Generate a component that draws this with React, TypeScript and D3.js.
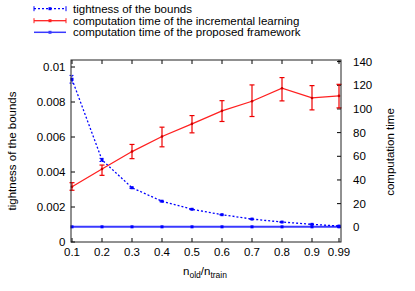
import React, { useEffect, useRef } from "react";
import * as d3 from "d3";

// ratio n_old / n_train
const ratios = [0.1, 0.2, 0.3, 0.4, 0.5, 0.6, 0.7, 0.8, 0.9, 0.99];
const xTickLabels = ["0.1", "0.2", "0.3", "0.4", "0.5", "0.6", "0.7", "0.8", "0.9", "0.99"];
// tightness of the bounds (left axis)
const tightness = [0.0093, 0.00469, 0.0031, 0.00233, 0.00187, 0.00156, 0.00131, 0.00114, 0.00101, 0.00091];
const tightnessErr = [0.00022, 0.00009, 0.00004, 0.00003, 0.00002, 0.00002, 0.00002, 0.00002, 0.00002, 0.00002];
// computation time of the incremental learning (right axis)
const incTime = [34.3, 49.3, 64, 76.7, 87.4, 98.4, 106.5, 117.5, 109.3, 111];
const incLow = [31.3, 43.9, 58, 68, 79.8, 89.4, 93.6, 106.8, 99.2, 100.9];
const incHigh = [37.7, 52.6, 70, 84.6, 94.4, 107, 120.3, 126.5, 119.7, 120.8];
// computation time of the proposed framework (right axis)
const propTime = [0.4, 0.4, 0.4, 0.4, 0.4, 0.4, 0.4, 0.4, 0.4, 0.4];

const leftTicks = [0, 0.002, 0.004, 0.006, 0.008, 0.01];
const leftTickLabels = ["0", "0.002", "0.004", "0.006", "0.008", "0.01"];
const rightTicks = [0, 20, 40, 60, 80, 100, 120, 140];

const font = "'Liberation Sans', Arial, Helvetica, sans-serif";

export default function App() {
  const ref = useRef<SVGSVGElement>(null);

  useEffect(() => {
    const svg = d3.select(ref.current);
    svg.selectAll("*").remove();

    // frame
    const L = 71, R = 341, T = 60, B = 242;
    const x = d3.scaleLinear().domain([0.1, 0.99]).range([72, 339]);
    const yL = d3.scaleLinear().domain([0, 0.01]).range([242, 67]);
    const yR = d3.scaleLinear().domain([0, 140]).range([227.3, 61.6]);

    const g = svg.append("g").attr("font-family", font).attr("font-size", 11.5).attr("fill", "#000");

    // ticks (inward)
    const tk = 4;
    ratios.forEach((r) => {
      g.append("line").attr("x1", x(r)).attr("x2", x(r)).attr("y1", B).attr("y2", B - tk).attr("stroke", "#000");
      g.append("line").attr("x1", x(r)).attr("x2", x(r)).attr("y1", T).attr("y2", T + tk).attr("stroke", "#000");
    });
    leftTicks.forEach((v) => {
      g.append("line").attr("x1", L).attr("x2", L + tk).attr("y1", yL(v)).attr("y2", yL(v)).attr("stroke", "#000");
    });
    rightTicks.forEach((v) => {
      g.append("line").attr("x1", R).attr("x2", R - tk).attr("y1", yR(v)).attr("y2", yR(v)).attr("stroke", "#000");
    });

    // tick labels
    ratios.forEach((r, i) => {
      g.append("text").attr("x", x(r)).attr("y", 256).attr("text-anchor", "middle").text(xTickLabels[i]);
    });
    leftTicks.forEach((v, i) => {
      g.append("text").attr("x", 65.5).attr("y", yL(v) + 4).attr("text-anchor", "end").text(leftTickLabels[i]);
    });
    rightTicks.forEach((v) => {
      g.append("text").attr("x", 353).attr("y", yR(v) + 4).attr("text-anchor", "start").text(String(v));
    });

    // axis titles
    const xt = g.append("text").attr("x", 205).attr("y", 275).attr("text-anchor", "middle");
    xt.append("tspan").text("n");
    xt.append("tspan").attr("font-size", 8.5).attr("dy", 3).text("old");
    xt.append("tspan").attr("dy", -3).text("/n");
    xt.append("tspan").attr("font-size", 8.5).attr("dy", 3).text("train");

    g.append("text").attr("transform", "translate(16,151) rotate(-90)").attr("text-anchor", "middle").text("tightness of the bounds");
    g.append("text").attr("transform", "translate(394,152) rotate(-90)").attr("text-anchor", "middle").text("computation time");

    const plot = svg.append("g");

    // proposed framework (solid blue)
    const lineR = d3.line<number>().x((_, i) => x(ratios[i])).y((d) => yR(d));
    plot.append("path").attr("d", lineR(propTime)).attr("fill", "none").attr("stroke", "#3a3aff").attr("stroke-width", 2);
    propTime.forEach((d, i) => {
      plot.append("rect").attr("x", x(ratios[i]) - 1.5).attr("y", yR(d) - 1.5).attr("width", 3).attr("height", 3).attr("fill", "#0000ff");
    });

    // tightness (dotted blue)
    const lineL = d3.line<number>().x((_, i) => x(ratios[i])).y((d) => yL(d));
    plot.append("path").attr("d", lineL(tightness)).attr("fill", "none").attr("stroke", "#0000ff").attr("stroke-width", 1.3).attr("stroke-dasharray", "2,2");
    tightness.forEach((d, i) => {
      const cx = x(ratios[i]);
      const y1 = yL(d + tightnessErr[i]), y2 = yL(d - tightnessErr[i]);
      plot.append("line").attr("x1", cx).attr("x2", cx).attr("y1", y1).attr("y2", y2).attr("stroke", "#0000ff").attr("stroke-dasharray", "1.5,1");
      [y1, y2].forEach((yy) => plot.append("line").attr("x1", cx - 2.5).attr("x2", cx + 2.5).attr("y1", yy).attr("y2", yy).attr("stroke", "#0000ff").attr("stroke-dasharray", "1.5,1"));
      plot.append("rect").attr("x", cx - 1.5).attr("y", yL(d) - 1.5).attr("width", 3).attr("height", 3).attr("fill", "#0000ff");
    });

    // incremental learning (red with error bars)
    plot.append("path").attr("d", lineR(incTime)).attr("fill", "none").attr("stroke", "#ff2020").attr("stroke-width", 1.3);
    incTime.forEach((d, i) => {
      const cx = x(ratios[i]);
      const y1 = yR(incHigh[i]), y2 = yR(incLow[i]);
      plot.append("line").attr("x1", cx).attr("x2", cx).attr("y1", y1).attr("y2", y2).attr("stroke", "#ee0000").attr("stroke-width", 1.2);
      [y1, y2].forEach((yy) => plot.append("line").attr("x1", cx - 2.5).attr("x2", cx + 2.5).attr("y1", yy).attr("y2", yy).attr("stroke", "#ee0000").attr("stroke-width", 1.2));
      plot.append("circle").attr("cx", cx).attr("cy", yR(d)).attr("r", 1.3).attr("fill", "#cc0000");
    });

    // frame
    svg.append("rect").attr("x", L).attr("y", T).attr("width", R - L).attr("height", B - T).attr("fill", "none").attr("stroke", "#222").attr("stroke-width", 1);

    // legend
    const leg = svg.append("g").attr("font-family", font).attr("font-size", 11.5);
    const entries = [
      { label: "tightness of the bounds", color: "#0000ff", dash: "2,2", caps: true, w: 1.3 },
      { label: "computation time of the incremental learning", color: "#ff2020", dash: null, caps: true, w: 1.3 },
      { label: "computation time of the proposed framework", color: "#3a3aff", dash: null, caps: false, w: 1.5 },
    ];
    const legY = [8.7, 20.7, 32.3];
    entries.forEach((e, i) => {
      const yy = legY[i];
      const ln = leg.append("line").attr("x1", 34).attr("x2", 66).attr("y1", yy).attr("y2", yy).attr("stroke", e.color).attr("stroke-width", e.w);
      if (e.dash) ln.attr("stroke-dasharray", e.dash);
      if (e.caps) {
        [34, 66].forEach((xx) => leg.append("line").attr("x1", xx).attr("x2", xx).attr("y1", yy - 2.5).attr("y2", yy + 2.5).attr("stroke", e.color));
      }
      leg.append("rect").attr("x", 48.5).attr("y", yy - 1.5).attr("width", 3).attr("height", 3).attr("fill", e.color);
      leg.append("text").attr("x", 73).attr("y", yy + 4).text(e.label);
    });
  }, []);

  return (
    <svg ref={ref} width={415} height={291} style={{ position: "absolute", left: 0, top: 0, background: "#fff" }} />
  );
}
